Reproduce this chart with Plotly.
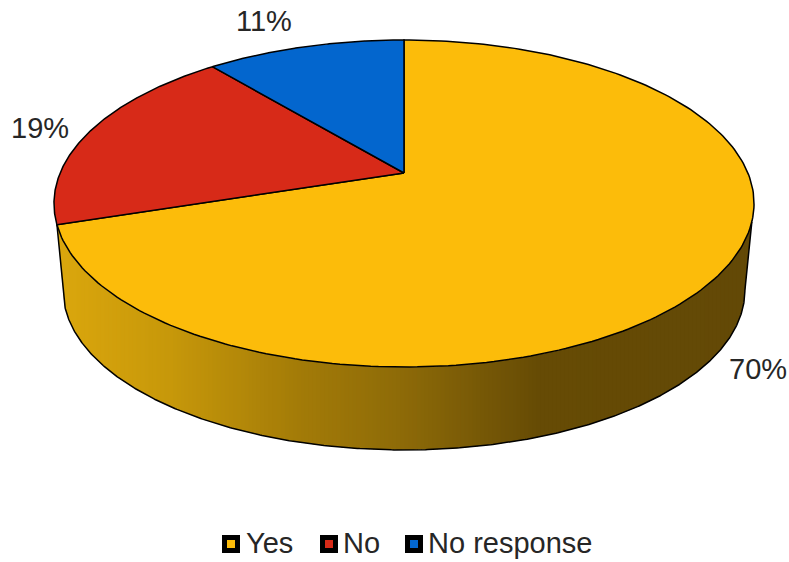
import numpy as np
import plotly.graph_objects as go

# Survey shares, clockwise from twelve o'clock
categories = ["Yes", "No", "No response"]
shares = [70, 19, 11]
slice_colors = ["#FCBC0A", "#D72A18", "#0366CE"]

# Upper and lower discs of the drum, as perspective-projected circles
CX = 404
TOP_DISC = dict(cy=173, a=157.8, b=343.9, k=-0.1865)
BASE_DISC = dict(cy=261, a=154.0, b=335.0, k=-0.185)
RIM_RIGHT_TOP, RIM_LEFT_TOP = 107.0, 252.0
RIM_RIGHT_BASE, RIM_LEFT_BASE = 100.7, 259.3

# Horizontal shading along the drum wall: x position, colour
wall_stops_x = [57, 170, 300, 400, 540, 760]
wall_stops_rgb = [(219, 167, 13), (199, 152, 10), (163, 123, 8), (142, 107, 8), (102, 75, 5), (99, 73, 6)]
STRIP_WIDTH = 4

# Label anchors and key layout
label_xy = {"Yes": (758, 369), "No": (40, 128), "No response": (264, 21)}
key_x = {"Yes": 231, "No": 329, "No response": 414}
key_text_x = {"Yes": 244, "No": 341, "No response": 426}
KEY_Y = 544
TEXT_FONT = dict(family="Liberation Sans, Arial, sans-serif", size=29, color="#262626")


def project(deg, disc):
    """Map a clockwise angle from the top of a disc to plot coordinates."""
    phi = np.radians(deg)
    s, c = -np.cos(phi), np.sin(phi)
    d = 1 + disc["k"] * s
    return CX + disc["b"] * c / d, disc["cy"] + disc["a"] * s / d


fig = go.Figure()

# Wall: vertical colour strips between the front of the top disc and the base
top_x, top_y = project(np.linspace(RIM_LEFT_TOP, RIM_RIGHT_TOP, 500), TOP_DISC)
base_x, base_y = project(np.linspace(RIM_LEFT_BASE, RIM_RIGHT_BASE, 500), BASE_DISC)
low_x = np.concatenate([[top_x[0]], base_x, [top_x[-1]]])
low_y = np.concatenate([[top_y[0]], base_y, [top_y[-1]]])

x0 = top_x[0]
while x0 < top_x[-1]:
    x1 = min(x0 + STRIP_WIDTH + 1, top_x[-1])
    xs = np.linspace(x0, x1, 4)
    y_up = np.interp(xs, top_x, top_y)
    y_lo = np.interp(xs, low_x, low_y)
    mid = (x0 + x1) / 2
    rgb = [np.interp(mid, wall_stops_x, [c[i] for c in wall_stops_rgb]) for i in range(3)]
    fig.add_trace(go.Scatter(
        x=np.concatenate([xs, xs[::-1]]), y=np.concatenate([y_up, y_lo[::-1]]),
        mode="lines", fill="toself", line=dict(width=0),
        fillcolor=f"rgb({rgb[0]:.0f},{rgb[1]:.0f},{rgb[2]:.0f})",
        hoverinfo="skip", showlegend=False))
    x0 += STRIP_WIDTH

# Wall outline
fig.add_trace(go.Scatter(
    x=low_x, y=low_y, mode="lines", line=dict(color="black", width=1.5),
    hoverinfo="skip", showlegend=False))

# Top face slices
start = 0.0
total = sum(shares)
for name, share, color in zip(categories, shares, slice_colors):
    sweep = 360.0 * share / total
    ax, ay = project(np.linspace(start, start + sweep, 240), TOP_DISC)
    fig.add_trace(go.Scatter(
        x=np.concatenate([[CX], ax, [CX]]),
        y=np.concatenate([[TOP_DISC["cy"]], ay, [TOP_DISC["cy"]]]),
        mode="lines", fill="toself", fillcolor=color,
        line=dict(color="black", width=1.5), name=name,
        hovertemplate=f"{name}: {share}%<extra></extra>", showlegend=False))
    start += sweep

# Value labels
for name, share in zip(categories, shares):
    lx, ly = label_xy[name]
    fig.add_annotation(x=lx, y=ly, text=f"{share}%", showarrow=False,
                       xanchor="center", yanchor="middle", font=TEXT_FONT)

# Key
for name, color in zip(categories, slice_colors):
    fig.add_trace(go.Scatter(
        x=[key_x[name]], y=[KEY_Y], mode="markers",
        marker=dict(symbol="square", size=13, color=color, line=dict(color="black", width=5)),
        hoverinfo="skip", showlegend=False))
    fig.add_annotation(x=key_text_x[name], y=KEY_Y - 1, text=name, showarrow=False,
                       xanchor="left", yanchor="middle", font=TEXT_FONT)

fig.update_layout(
    width=789, height=562, margin=dict(l=0, r=0, t=0, b=0),
    paper_bgcolor="white", plot_bgcolor="white", showlegend=False,
    xaxis=dict(range=[0, 789], visible=False, fixedrange=True),
    yaxis=dict(range=[562, 0], visible=False, fixedrange=True),
)
fig.write_html("out.html")
